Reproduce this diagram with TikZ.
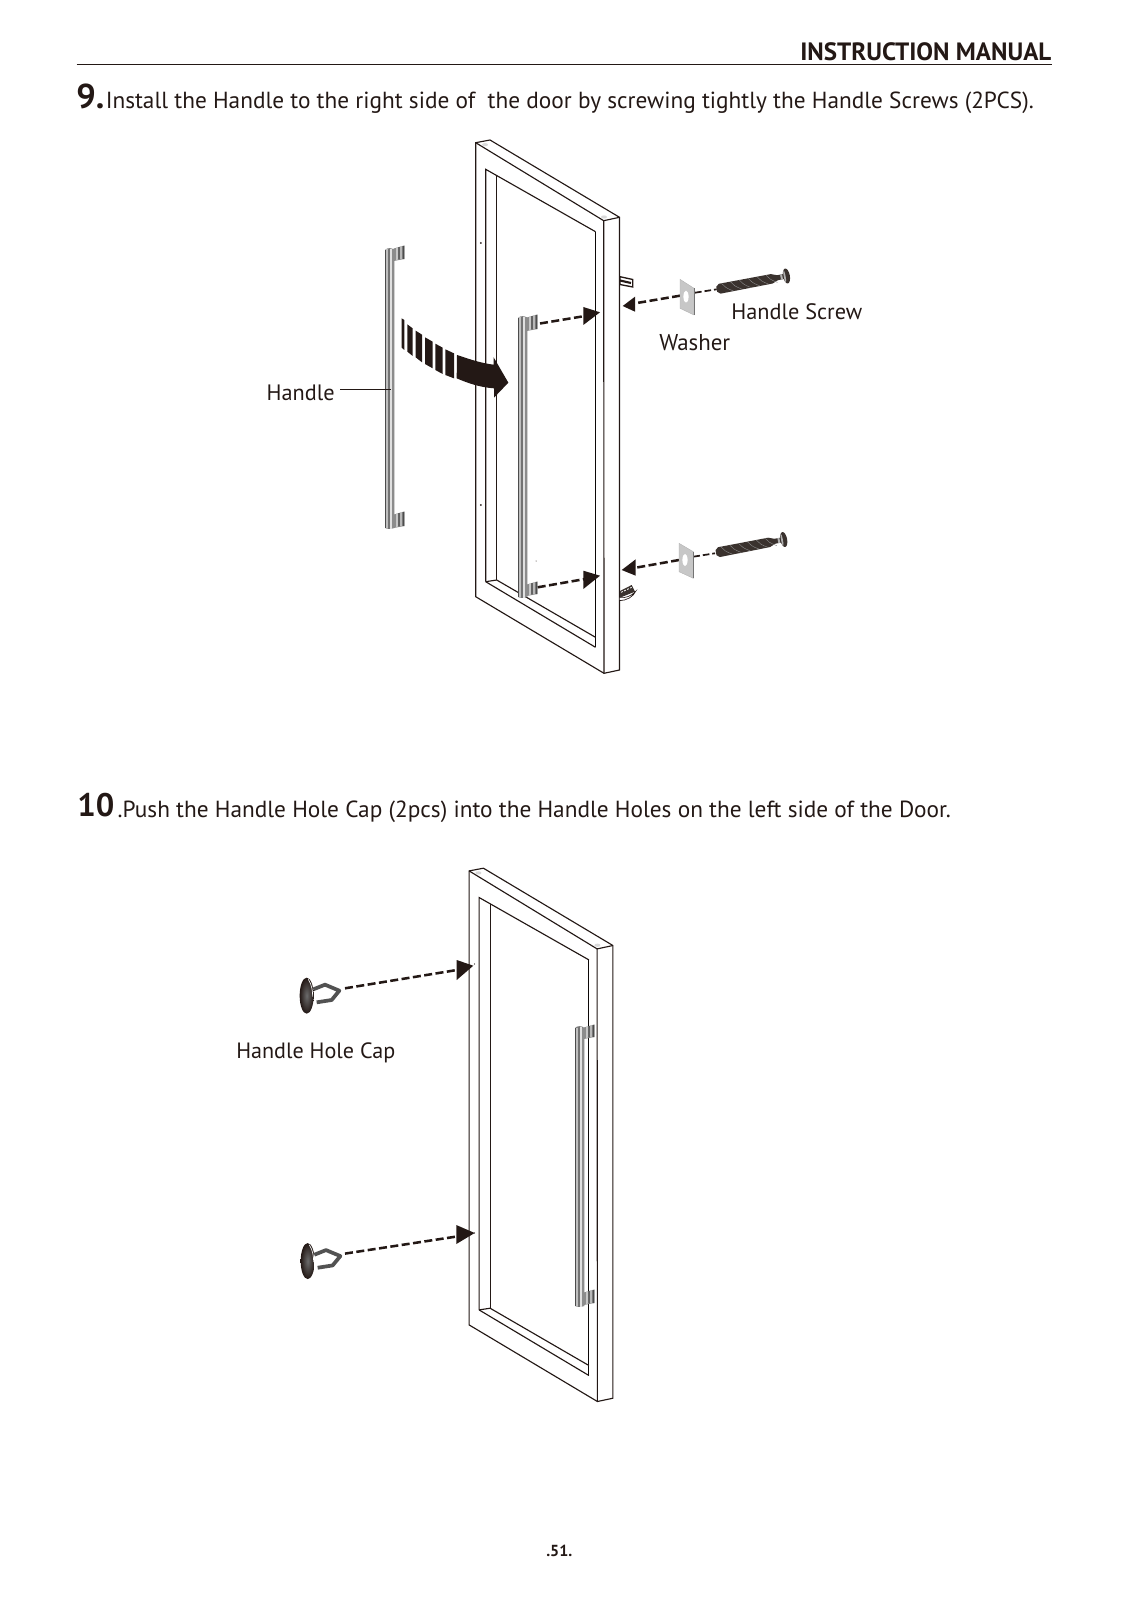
\documentclass[tikz,border=0pt]{standalone}
\usepackage{fontspec}
\usepackage{graphicx}
\setmainfont{PT Sans}
\usetikzlibrary{arrows.meta}
\definecolor{ink}{HTML}{231815}
\definecolor{screwc}{HTML}{3A322E}
\newcommand{\fit}[2]{\resizebox{\dimexpr#1pt*3/4\relax}{!}{#2}}
\newcommand{\handlebar}[3]{%
  \fill[black!50] (#1,#2+1) .. controls (#1+2,#2-1.5) and (#1+7,#2-1.5) .. (#1+9.3,#2+1) -- (#1+9.3,#3) .. controls (#1+7,#3+1) and (#1+2,#3+1) .. (#1,#3) -- cycle;
  \fill[black!70] (#1,#2+1) rectangle (#1+1.4,#3);
  \fill[black!25] (#1+1.4,#2+.5) rectangle (#1+3.4,#3+.3);
  \fill[black!55] (#1+3.4,#2) rectangle (#1+4.8,#3+.5);
  \fill[black!12] (#1+4.8,#2) rectangle (#1+6.6,#3+.5);
  \fill[black!45] (#1+6.6,#2+.5) rectangle (#1+9.3,#3+.3);
}
\newcommand{\hbracket}[3]{%
  \fill[black!45] (#1-.3,#2+2.5) -- (#1+10.3,#2-.3) -- (#1+10.3,#3-1) -- (#1-.3,#3+1) -- cycle;
  \fill[black!22] (#1+2,#2+1.8) -- (#1+4,#2+1.2) -- (#1+4,#3-.5) -- (#1+2,#3) -- cycle;
  \fill[black!28] (#1+6,#2+.6) -- (#1+8,#2) -- (#1+8,#3-1) -- (#1+6,#3-.8) -- cycle;
  \fill[black!70] (#1+4.3,#2+1.2) -- (#1+5.7,#2+.8) -- (#1+5.7,#3-.7) -- (#1+4.3,#3-.5) -- cycle;
  \fill[black!70] (#1+8.6,#2-.1) -- (#1+10.3,#2-.3) -- (#1+10.3,#3-1) -- (#1+8.6,#3-.9) -- cycle;
}
\newcommand{\doorframe}[2]{%
\begin{scope}[shift={(#1,#2)}]
  \draw[doorline,fill=white] (475.7,142.7) -- (490,140) -- (619.5,217.3) -- (619.5,670) -- (604,673.3) -- (475.7,596.7) -- cycle;
  \draw[doorline] (475.7,142.7) -- (603.7,220.7) -- (619.5,217.3);
  \draw[doorline] (603.7,220.7) -- (604,673.3);
  \draw[doorline] (485.7,581.7) -- (485.7,169.3) -- (595.5,231.7);
  \draw[doorline] (496.7,580) -- (496.7,176);
  \draw[doorthin] (595.5,231.7) -- (595.5,647.3);
  \draw[doorline] (485.7,581.7) -- (595.5,647.3);
  \draw[doorline] (496.7,580) -- (595.5,637.3);
  \draw[doorline] (485.7,581.7) -- (496.7,580);
  \fill[black!15] (485,144.7) ellipse (3 and 1.6);
  \fill[black!15] (604,217) ellipse (3 and 1.6);
\end{scope}}
\newcommand{\screwpart}[4]{%
\begin{scope}[shift={(#1,#2)},rotate=#3]
  \fill[screwc] (0,-2.5) -- (3,-5) -- (#4-10,-4.8) -- (#4-4,-2.5) -- (#4+3,-2.5) -- (#4+3,2.5) -- (#4-4,2.5) -- (#4-10,4.8) -- (3,5) -- (0,2.5) -- cycle;
  \foreach \t in {6,15,...,51} \draw[black!45,line width=.3pt] (\t,-4.7) .. controls (\t+2,-1) and (\t+4,1) .. (\t+10,4.7);
  \fill[black!30] (#4-1,-2.5) rectangle (#4+1,2.5);
  \fill[screwc] (#4+5,0) ellipse (3.4 and 7.6);
  \fill[black!30] (#4+3.2,0) ellipse (.9 and 6.2);
\end{scope}}
\newcommand{\capshape}[2]{%
\begin{scope}[shift={(#1,#2)},scale=1/3]
  \draw[black!68,line width=2.8pt,line join=round,fill=white]
    (100,118) -- (135,104) -- (178,122) -- (155,150) -- (110,157);
  \shade[inner color=black!58,outer color=ink] (80,137) ellipse (21 and 54);
  \draw[white,line width=.5pt] (85,88) .. controls (96,105) and (98,125) .. (98,140);
\end{scope}}
\tikzset{
  doorline/.style={ink,line width=.85pt},
  doorthin/.style={black!65!ink,line width=.75pt},
  dasharrow/.style={ink,line width=1.9pt,dash pattern=on 6pt off 2.6pt},
  headtip/.style={fill=ink,draw=none},
  lbl/.style={anchor=base west,inner sep=0pt,text=ink},
  wash/.style={fill=black!22,draw=black!30,line width=.3pt},
}
\begin{document}
\begin{tikzpicture}[x=.75pt,y=-.75pt]
\useasboundingbox (0,0) rectangle (1128,1601);
% header
\node[lbl] (hdr) at (800,60.5) {\fit{251}{\bfseries INSTRUCTION MANUAL}};
\coordinate (ruleA) at (76.6,64.3);
\coordinate (ruleB) at (1051.5,64.3);
\draw[ink,line width=.9pt] (ruleA) -- (ruleB);
\node[lbl] (num9) at (76,108.5) {\fit{28}{\bfseries 9.}};
\node[lbl] (t9) at (105.5,109) {\fit{928}{Install the Handle to the right side of\ \ the door by screwing tightly the Handle Screws (2PCS).}};
\node[lbl] (num10) at (77,816.5) {\fit{37}{\bfseries 10}};
\node[lbl] (t10) at (117.4,817.5) {\fit{833}{.Push the Handle Hole Cap (2pcs) into the Handle Holes on the left side of the Door.}};
\node[lbl] (pg) at (546,1556.5) {\fit{26}{\bfseries .51.}};

% ---------- step 9
\doorframe{0}{0}
\fill[ink] (480.8,243) circle (1);
\fill[ink] (480.8,505) circle (1);
\fill[ink] (536,561) circle (.5);
% left handle
\handlebar{385}{249}{528}
\hbracket{394}{246}{260}
\hbracket{394}{512}{527}
\node[lbl] (lhandle) at (266.4,400.5) {\fit{68}{Handle}};
\coordinate (lh0) at (340,389);
\coordinate (lh) at (391,389);
\draw[ink,line width=.5pt] (lh0) -- (lh);
% mounted handle
\handlebar{518}{317}{597}
\hbracket{527}{315}{330}
\hbracket{527}{582}{595}
% big curved arrow
\begin{scope}[shift={(370,300)},scale=1/3]
  \fill[ink] (95,55) -- (103,60) -- (103,150) -- (95,143) -- cycle;
  \fill[ink] (112,73) -- (128,85) -- (128,168) -- (112,155) -- cycle;
  \fill[ink] (137,92) -- (156,104) -- (156,187) -- (137,172) -- cycle;
  \fill[ink] (165,112) -- (188,125) -- (188,205) -- (165,192) -- cycle;
  \fill[ink] (196,131) -- (218,143) -- (218,222) -- (196,210) -- cycle;
  \fill[ink] (226,148) -- (252,160) -- (252,235) -- (226,225) -- cycle;
  \fill[ink] (261,165) .. controls (300,178) and (335,190) .. (371,194) -- (371,172) -- (415,248) -- (372,293) -- (372,265) .. controls (330,262) and (295,250) .. (260,235) -- cycle;
\end{scope}
% upper dashed lines
\coordinate (a1) at (540,323.5);
\coordinate (a2) at (585,316);
\draw[dasharrow] (a1) -- (a2);
\fill[headtip] (600,312.3) -- (583.3,307) -- (583.3,325) -- cycle;
\coordinate (b1) at (680,295.7);
\coordinate (b2) at (634,303.5);
\draw[dasharrow] (b1) -- (b2);
\fill[headtip] (622.7,306) -- (635,296.7) -- (635,311.7) -- cycle;
\coordinate (c1) at (695,292.7);
\coordinate (c2) at (716.7,289.3);
\draw[ink,line width=1.3pt,dash pattern=on 5pt off 2.2pt] (c1) -- (c2);
% upper washer
\fill[wash] (680,279.3) -- (694,288.3) -- (694,315) -- (680,308.3) -- cycle;
\draw[black!55,line width=.5pt] (694,288.3) -- (694,315);
\fill[white] (686,296.7) ellipse (2.6 and 6);
\screwpart{716.7}{289.3}{10.8}{66}
% upper clip
\fill[white,draw=ink,line width=1pt] (620,276.7) -- (632.7,279.5) -- (632.7,287) -- (620,284.5) -- cycle;
\draw[ink,line width=1.6pt] (620,280.5) -- (631,283);
% lower dashed lines
\coordinate (d1) at (537.7,587.3);
\coordinate (d2) at (585,579);
\draw[dasharrow] (d1) -- (d2);
\fill[headtip] (600,575.7) -- (583.3,570.7) -- (583.3,589) -- cycle;
\coordinate (e1) at (679,560);
\coordinate (e2) at (634,568);
\draw[dasharrow] (e1) -- (e2);
\fill[headtip] (621.7,570) -- (635.7,559.3) -- (635.7,575.7) -- cycle;
\coordinate (f1) at (693.3,556.7);
\coordinate (f2) at (715,553.3);
\draw[ink,line width=1.3pt,dash pattern=on 5pt off 2.2pt] (f1) -- (f2);
% lower washer
\fill[wash] (679,543.3) -- (693.3,551.7) -- (693.3,578.3) -- (679,571.7) -- cycle;
\draw[black!55,line width=.5pt] (693.3,551.7) -- (693.3,578.3);
\fill[white] (685,560) ellipse (2.6 and 6);
\screwpart{716}{552.7}{11}{64}
% lower clip
\begin{scope}[shift={(470,530)},scale=1/3]
  \fill[screwc] (450,183) -- (485,165) -- (495,185) -- (450,203) -- cycle;
  \draw[white,line width=.6pt,dash pattern=on 1.5pt off 1pt] (453,187) -- (485,172);
  \draw[ink,line width=.5pt,fill=white] (448,203) .. controls (465,205) and (485,198) .. (497,184) .. controls (490,200) and (470,212) .. (448,212) -- cycle;
\end{scope}
\node[lbl] (lscrew) at (731,319.5) {\fit{131}{Handle Screw}};
\node[lbl] (lwash) at (659,350) {\fit{71}{Washer}};

% ---------- step 10
\doorframe{-6.6}{728.2}
\fill[ink] (474.5,964) circle (.6);
\fill[ink] (474.5,1233) circle (.6);
\handlebar{575}{1027}{1306}
\hbracket{584}{1025}{1038}
\hbracket{584}{1290}{1304}
\capshape{280}{950}
\capshape{281}{1215.4}
\coordinate (g1) at (345,988.3);
\coordinate (g2) at (460,969.5);
\draw[dasharrow] (g1) -- (g2);
\fill[headtip] (473.3,965.7) -- (456.7,960) -- (456.7,980) -- cycle;
\coordinate (h1) at (345,1253.6);
\coordinate (h2) at (460,1236);
\draw[dasharrow] (h1) -- (h2);
\fill[headtip] (474.7,1233) -- (456.3,1225) -- (456.3,1244) -- cycle;
\node[lbl] (lcap) at (236,1058.6) {\fit{159}{Handle Hole Cap}};
\end{tikzpicture}
\end{document}
